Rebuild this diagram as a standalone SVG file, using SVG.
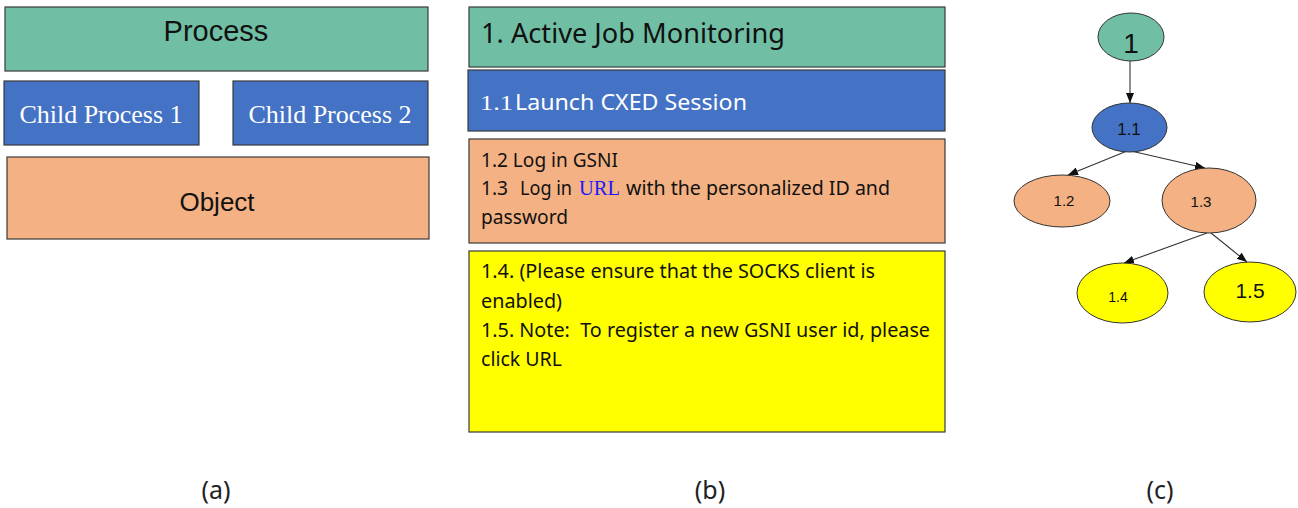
<svg xmlns="http://www.w3.org/2000/svg" width="1298" height="508" viewBox="0 0 1298 508">
<style>
.box{stroke:#3a3a3a;stroke-width:1.2}
.g{fill:#70BFA5}.b{fill:#4472C4}.o{fill:#F4B183}.y{fill:#FFFF00}
.sans{font-family:"Liberation Sans",Arial,sans-serif}
.ser{font-family:"Liberation Serif","Times New Roman",serif}
.cal{font-family:"Noto Sans","Open Sans",sans-serif}
.lbl{font-family:"Noto Sans","Open Sans",sans-serif;font-size:25px;fill:#222;text-anchor:middle}
.nd{stroke:#333;stroke-width:1}
.ntx{font-family:"Liberation Sans",Arial,sans-serif;fill:#111;text-anchor:middle}
.edge{stroke:#333;stroke-width:1.1;fill:none;marker-end:url(#ah)}
</style>
<defs>
<marker id="ah" markerUnits="userSpaceOnUse" markerWidth="10" markerHeight="8" refX="10" refY="4" orient="auto">
<path d="M0,0 L10,4 L0,8 z" fill="#111"/>
</marker>
</defs>
<rect width="1298" height="508" fill="#fff"/>

<!-- Panel (a) -->
<g id="a-process">
<rect class="box g" x="5" y="7" width="423" height="64"/>
<text class="sans" x="216" y="41" font-size="29" text-anchor="middle" fill="#111">Process</text>
</g>
<g id="a-child1">
<rect class="box b" x="4" y="81" width="195" height="64"/>
<text class="ser" x="101" y="123" font-size="26" text-anchor="middle" fill="#fff">Child Process 1</text>
</g>
<g id="a-child2">
<rect class="box b" x="233" y="81" width="195" height="64"/>
<text class="ser" x="330" y="123" font-size="26" text-anchor="middle" fill="#fff">Child Process 2</text>
</g>
<g id="a-object">
<rect class="box o" x="7" y="157" width="422" height="82"/>
<text class="sans" x="217" y="211" font-size="26" text-anchor="middle" fill="#111">Object</text>
</g>

<!-- Panel (b) -->
<g id="b-1">
<rect class="box g" x="469" y="7" width="476" height="60"/>
<text class="cal" x="481" y="43" font-size="28" fill="#111" textLength="304" lengthAdjust="spacingAndGlyphs">1. Active Job Monitoring</text>
</g>
<g id="b-1-1">
<rect class="box b" x="468" y="70" width="477" height="61"/>
<text class="ser" x="480" y="110" font-size="22" fill="#fff" textLength="33" lengthAdjust="spacingAndGlyphs">1.1</text>
<text class="cal" x="515" y="110" font-size="22" fill="#fff" textLength="232" lengthAdjust="spacingAndGlyphs">Launch CXED Session</text>
</g>
<g id="b-1-2-3">
<rect class="box o" x="469" y="139" width="476" height="104"/>
<text class="cal" x="481" y="167" font-size="19" fill="#111" textLength="137" lengthAdjust="spacingAndGlyphs">1.2 Log in GSNI</text>
<text class="cal" x="481" y="195" font-size="19" fill="#111" textLength="27" lengthAdjust="spacingAndGlyphs">1.3</text>
<text class="cal" x="520" y="195" font-size="19" fill="#111" textLength="52" lengthAdjust="spacingAndGlyphs">Log in</text>
<text class="ser" x="579" y="195" font-size="20" fill="#1a1aff" textLength="41" lengthAdjust="spacingAndGlyphs">URL</text>
<text class="cal" x="626" y="195" font-size="19" fill="#111" textLength="264" lengthAdjust="spacingAndGlyphs">with the personalized ID and</text>
<text class="cal" x="481" y="224" font-size="19" fill="#111" textLength="87" lengthAdjust="spacingAndGlyphs">password</text>
</g>
<g id="b-1-4-5">
<rect class="box y" x="469" y="251" width="476" height="181"/>
<text class="cal" x="481" y="278" font-size="19" fill="#111" textLength="394" lengthAdjust="spacingAndGlyphs">1.4. (Please ensure that the SOCKS client is</text>
<text class="cal" x="481" y="308" font-size="19" fill="#111" textLength="81" lengthAdjust="spacingAndGlyphs">enabled)</text>
<text class="cal" x="481" y="337" font-size="19" fill="#111" textLength="449" lengthAdjust="spacingAndGlyphs" xml:space="preserve">1.5. Note:  To register a new GSNI user id, please</text>
<text class="cal" x="481" y="366" font-size="19" fill="#111" textLength="81" lengthAdjust="spacingAndGlyphs">click URL</text>
</g>

<!-- Panel (c) connectors -->
<g id="connectors">
<line class="edge" x1="1130" y1="61" x2="1130" y2="103"/>
<line class="edge" x1="1127" y1="151" x2="1068" y2="175"/>
<line class="edge" x1="1131" y1="151" x2="1205" y2="168"/>
<line class="edge" x1="1207" y1="233" x2="1124" y2="263"/>
<line class="edge" x1="1211" y1="233" x2="1247" y2="262"/>
</g>

<!-- Panel (c) nodes -->
<g id="c-1">
<ellipse class="nd g" cx="1131" cy="37" rx="33" ry="24"/>
<text class="ntx" x="1131" y="53" font-size="28">1</text>
</g>
<g id="c-1-1">
<ellipse class="nd b" cx="1129.5" cy="127.5" rx="37.5" ry="24.5"/>
<text class="ntx" x="1129" y="135" font-size="17">1.1</text>
</g>
<g id="c-1-2">
<ellipse class="nd o" cx="1062" cy="201" rx="48" ry="26"/>
<text class="ntx" x="1064" y="206" font-size="15">1.2</text>
</g>
<g id="c-1-3">
<ellipse class="nd o" cx="1209" cy="200.5" rx="47" ry="32.5"/>
<text class="ntx" x="1201" y="207" font-size="15">1.3</text>
</g>
<g id="c-1-4">
<ellipse class="nd y" cx="1122.5" cy="293" rx="45.5" ry="30"/>
<text class="ntx" x="1118" y="302" font-size="14">1.4</text>
</g>
<g id="c-1-5">
<ellipse class="nd y" cx="1250" cy="292" rx="46" ry="30"/>
<text class="ntx" x="1250" y="298" font-size="21">1.5</text>
</g>

<!-- Captions -->
<text class="lbl" x="216" y="499">(a)</text>
<text class="lbl" x="710" y="499">(b)</text>
<text class="lbl" x="1160" y="499">(c)</text>
</svg>
